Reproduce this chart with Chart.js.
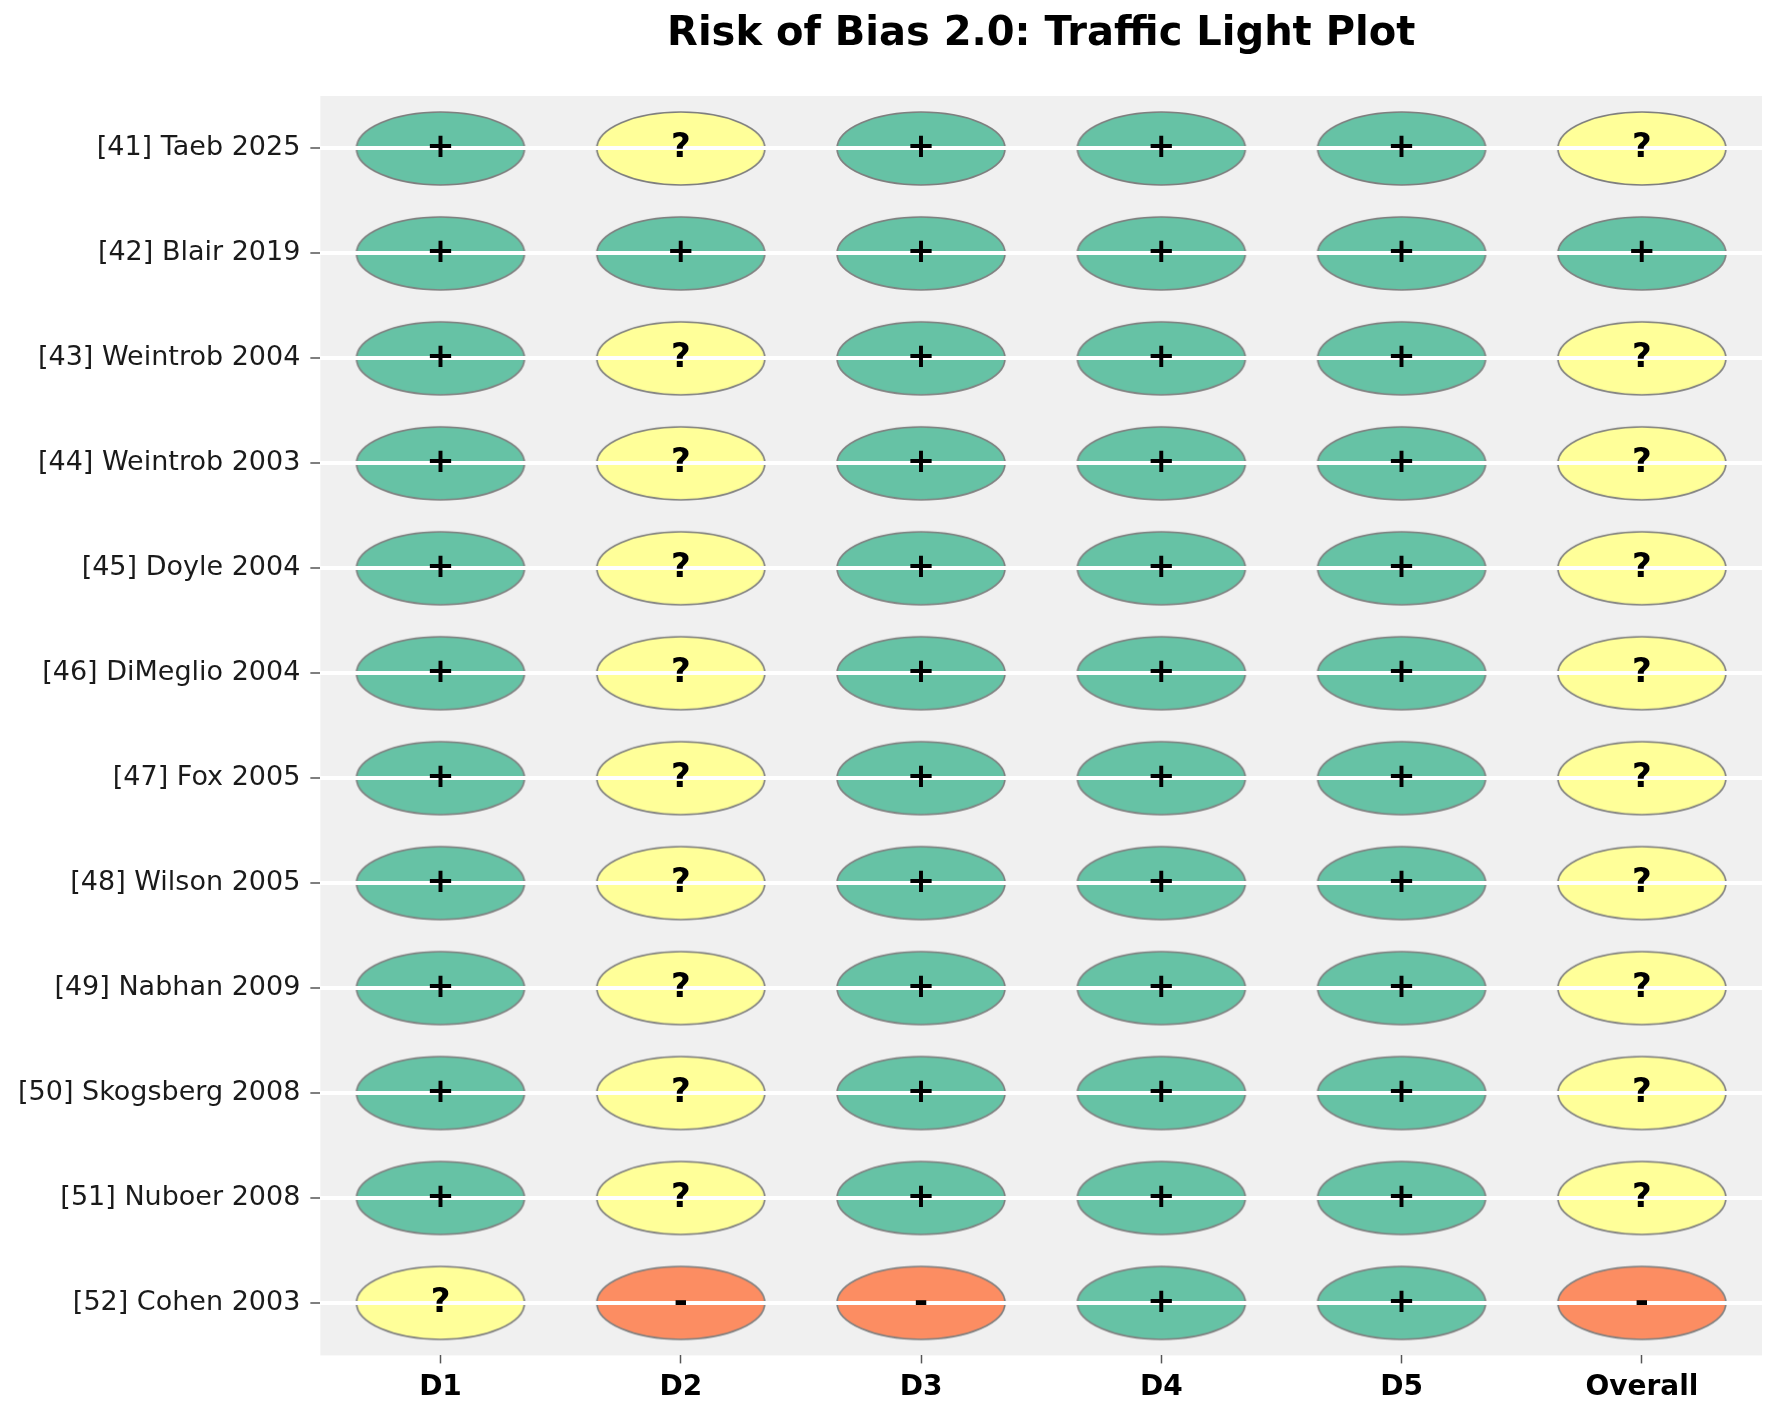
<!DOCTYPE html>
<html>
<head>
<meta charset="utf-8">
<script src="https://cdn.jsdelivr.net/npm/chart.js@4.4.1/dist/chart.umd.min.js"></script>
<style>
  html, body { margin: 0; padding: 0; background: #fff; }
  #wrap { width: 1772px; height: 1404px; }
</style>
</head>
<body>
<div id="wrap"><canvas id="rob"></canvas></div>
<script>
// studies, top to bottom
const studies = [
  '[41] Taeb 2025', '[42] Blair 2019', '[43] Weintrob 2004', '[44] Weintrob 2003',
  '[45] Doyle 2004', '[46] DiMeglio 2004', '[47] Fox 2005', '[48] Wilson 2005',
  '[49] Nabhan 2009', '[50] Skogsberg 2008', '[51] Nuboer 2008', '[52] Cohen 2003'
];
const domains = ['D1', 'D2', 'D3', 'D4', 'D5', 'Overall'];

// judgements per domain, same order as studies
const d1      = ['+', '+', '+', '+', '+', '+', '+', '+', '+', '+', '+', '?'];
const d2      = ['?', '+', '?', '?', '?', '?', '?', '?', '?', '?', '?', '-'];
const d3      = ['+', '+', '+', '+', '+', '+', '+', '+', '+', '+', '+', '-'];
const d4      = ['+', '+', '+', '+', '+', '+', '+', '+', '+', '+', '+', '+'];
const d5      = ['+', '+', '+', '+', '+', '+', '+', '+', '+', '+', '+', '+'];
const overall = ['?', '+', '?', '?', '?', '?', '?', '?', '?', '?', '?', '-'];

const levels = ['+', '?', '-'];
const levelNames = { '+': 'Low risk', '?': 'Some concerns', '-': 'High risk' };
const fills = { '+': '#66c2a5', '?': '#ffff99', '-': '#fc8d62' };

const FONT = "'DejaVu Sans', 'Liberation Sans', sans-serif";

const columns = [d1, d2, d3, d4, d5, overall];

// one dataset per judgement level
const datasets = levels.map(lv => {
  const pts = [];
  columns.forEach((col, i) => {
    col.forEach((j, k) => {
      if (j === lv) pts.push({ x: domains[i], y: studies[k], mark: j });
    });
  });
  return {
    label: levelNames[lv],
    data: pts,
    backgroundColor: fills[lv],
    borderColor: '#808080',
    pointRadius: 10,
    pointStyle: ctx => ellipseFor(ctx.chart, fills[lv])
  };
});

// ellipse marker sized to the cell
const cache = {};
function ellipseFor(chart, color) {
  const a = chart.chartArea;
  if (!a) return 'circle';
  const w = Math.round(a.width / domains.length * 0.7);
  const h = Math.round(a.height / studies.length * 0.7);
  const key = color + w + 'x' + h;
  if (cache[key]) return cache[key];
  const c = document.createElement('canvas');
  c.width = w + 4;
  c.height = h + 4;
  const g = c.getContext('2d');
  g.beginPath();
  g.ellipse(c.width / 2, c.height / 2, w / 2, h / 2, 0, 0, Math.PI * 2);
  g.fillStyle = color;
  g.fill();
  g.lineWidth = 1.7;
  g.strokeStyle = '#7f7f7f';
  g.stroke();
  cache[key] = c;
  return c;
}

const areaBg = {
  id: 'areaBg',
  beforeDraw(chart) {
    const { ctx, chartArea: a } = chart;
    ctx.save();
    ctx.fillStyle = '#f0f0f0';
    ctx.fillRect(a.left, a.top, a.width, a.height);
    ctx.restore();
  }
};

// +, ?, - on top of the grid lines
const marks = {
  id: 'marks',
  afterDraw(chart) {
    const ctx = chart.ctx;
    ctx.save();
    ctx.font = 'bold 34px ' + FONT;
    ctx.fillStyle = '#000';
    ctx.textAlign = 'center';
    ctx.textBaseline = 'middle';
    chart.data.datasets.forEach((ds, di) => {
      chart.getDatasetMeta(di).data.forEach((el, i) => {
        ctx.fillText(ds.data[i].mark, el.x, el.y);
      });
    });
    ctx.restore();
  }
};

new Chart(document.getElementById('rob'), {
  type: 'scatter',
  data: { datasets },
  options: {
    responsive: true,
    maintainAspectRatio: false,
    animation: false,
    layout: { autoPadding: false, padding: { left: 8, right: 10, top: 0, bottom: -9 } },
    plugins: {
      legend: { display: false },
      tooltip: { enabled: false },
      title: {
        display: true,
        text: 'Risk of Bias 2.0: Traffic Light Plot',
        fullSize: false,
        color: '#000',
        font: { family: FONT, size: 40, weight: 'bold' },
        padding: { top: 11, bottom: 37 }
      }
    },
    scales: {
      x: {
        type: 'category',
        labels: domains,
        offset: true,
        position: 'bottom',
        border: { display: false },
        grid: { drawOnChartArea: false, tickColor: '#555', tickLength: 8, tickWidth: 1.5 },
        ticks: { color: '#000', padding: 8, font: { family: FONT, size: 28, weight: 'bold' } }
      },
      y: {
        type: 'category',
        labels: studies,
        offset: true,
        border: { display: false },
        grid: { color: '#ffffff', lineWidth: 4, z: 1, tickColor: '#555', tickLength: 10, tickWidth: 1.5 },
        ticks: { color: '#1a1a1a', padding: 10, font: { family: FONT, size: 27 } }
      }
    }
  },
  plugins: [areaBg, marks]
});
</script>
</body>
</html>
